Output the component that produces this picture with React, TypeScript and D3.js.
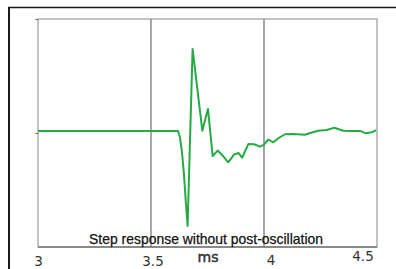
import React from "react";
import * as d3 from "d3";

const timeMs = [
  3.0, 3.6195, 3.628, 3.637, 3.646, 3.655, 3.662, 3.684, 3.727, 3.752, 3.773, 3.795,
  3.819, 3.842, 3.867, 3.887, 3.903, 3.931, 3.956, 3.982, 3.998, 4.019, 4.041, 4.063,
  4.093, 4.124, 4.15, 4.181, 4.212, 4.24, 4.277, 4.311, 4.351, 4.388, 4.425, 4.451,
  4.477, 4.496,
];
const response = [
  0.018, 0.018, -0.035, -0.167, -0.368, -0.632, -0.816, 0.737, 0.02, 0.211, -0.202, -0.154,
  -0.202, -0.257, -0.189, -0.175, -0.217, -0.096, -0.099, -0.12, -0.105, -0.057, -0.082, -0.046,
  -0.011, -0.009, -0.011, -0.016, 0.004, 0.02, 0.026, 0.046, 0.02, 0.018, 0.018, -0.003,
  0.006, 0.026,
];
const xTicks = [3, 3.5, 4, 4.5];
const xTickLabels = ["3", "3.5", "4", "4.5"];
const gridTimes = [3.5, 4];
const axisUnit = "ms";
const caption = "Step response without post-oscillation";

const W = 396;
const H = 269;
const L = 38;
const R = 377;
const T = 19;
const B = 247;

export default function App() {
  const x = d3.scaleLinear().domain([3, 4.5]).range([L, R]);
  const y = d3.scaleLinear().domain([-1, 1]).range([B, T]);
  const pts: [number, number][] = timeMs.map((t, i) => [t, response[i]]);
  const line = d3
    .line<[number, number]>()
    .x((d) => x(d[0]))
    .y((d) => y(d[1]));
  const labelDx = [0.5, 2, 7, -14];
  const labelDy = [266, 266, 265, 261];
  return (
    <svg
      width={W}
      height={H}
      style={{ position: "absolute", left: 0, top: 0, background: "#fff" }}
    >
      <rect x={0} y={0} width={W} height={H} fill="#fff" />
      <line x1={8} y1={7.5} x2={W} y2={7.5} stroke="#1a1a1a" strokeWidth={1.5} />
      <line x1={9} y1={7} x2={9} y2={H} stroke="#1a1a1a" strokeWidth={2} />
      <rect x={L} y={T} width={R - L} height={B - T} fill="none" stroke="#9a9a9a" strokeWidth={1.2} />
      <line x1={L} y1={B} x2={R} y2={B} stroke="#777" strokeWidth={1.3} />
      {gridTimes.map((t) => (
        <line key={t} x1={x(t)} y1={T} x2={x(t)} y2={B} stroke="#777" strokeWidth={1.3} />
      ))}
      {[1, 0].map((v) => (
        <line key={v} x1={L - 2.5} y1={y(v) + 0.5} x2={L} y2={y(v) + 0.5} stroke="#666" strokeWidth={1} />
      ))}
      <path d={line(pts) || ""} fill="none" stroke="#26ab44" strokeWidth={2} strokeLinejoin="round" />
      <text
        x={206}
        y={243.5}
        textAnchor="middle"
        fontFamily="'Liberation Sans Narrow', 'Arial Narrow', 'Liberation Sans', sans-serif"
        fontSize={14.5}
        fill="#111"
        stroke="#111"
        strokeWidth={0.25}
        textLength={234}
        lengthAdjust="spacingAndGlyphs"
      >
        {caption}
      </text>
      {xTicks.map((t, i) => (
        <text
          key={t}
          x={x(t) + labelDx[i]}
          y={labelDy[i]}
          textAnchor="middle"
          fontFamily="'DejaVu Sans', sans-serif"
          fontSize={13.5}
          fill="#333"
        >
          {xTickLabels[i]}
        </text>
      ))}
      <text
        x={208}
        y={262}
        textAnchor="middle"
        fontFamily="'DejaVu Sans', sans-serif"
        fontSize={14}
        fill="#333"
        stroke="#333"
        strokeWidth={0.5}
      >
        {axisUnit}
      </text>
    </svg>
  );
}
